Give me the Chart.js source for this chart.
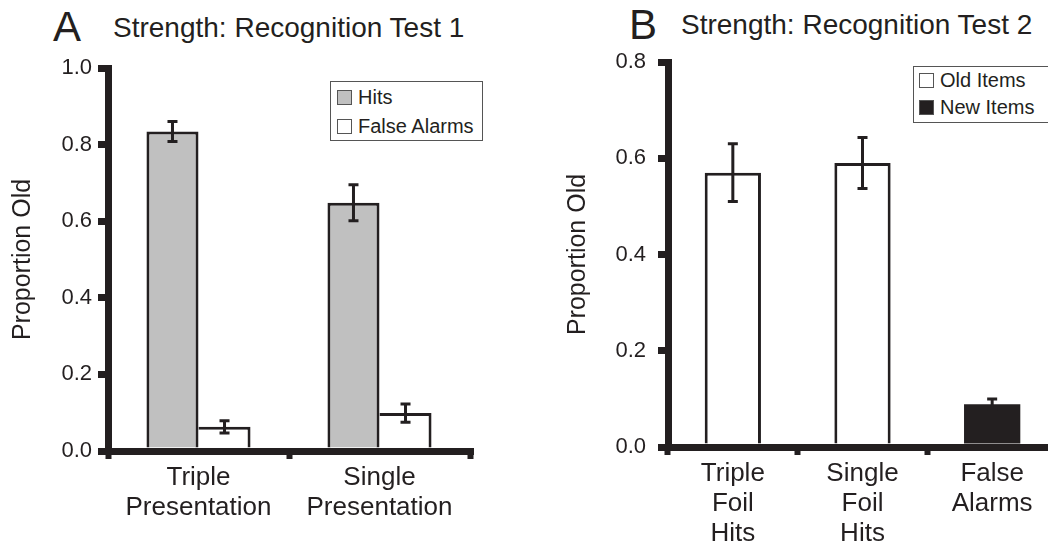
<!DOCTYPE html>
<html>
<head>
<meta charset="utf-8">
<script src="https://cdn.jsdelivr.net/npm/chart.js@4.4.1/dist/chart.umd.min.js"></script>
<style>
  body { margin: 0; width: 1048px; height: 548px; overflow: hidden; background: #fff; position: relative;
         font-family: "Liberation Sans", Arial, sans-serif; color: #231f20; }
  .panel { position: absolute; top: 0; height: 548px; }
  .letter { position: absolute; font-size: 42px; line-height: 42px; }
  .title { position: absolute; font-size: 28px; line-height: 28px; white-space: nowrap; }
  .legend { position: absolute; border: 1px solid #555; background: #fff; font-size: 20px; white-space: nowrap; }
  .legend div { display: flex; align-items: center; }
  .legend span.box { display: inline-block; width: 13px; height: 13px; border: 1px solid #555; margin-right: 6px; }
</style>
</head>
<body>
<div class="letter" style="left:53px; top:6px;">A</div>
<div class="title" style="left:113px; top:14px;">Strength: Recognition Test 1</div>
<div class="letter" style="left:629px; top:4px;">B</div>
<div class="title" style="left:681px; top:11px;">Strength: Recognition Test 2</div>

<div class="panel" style="left:0; width:520px;"><canvas id="chartA"></canvas></div>
<div class="panel" style="left:540px; width:540px;"><canvas id="chartB"></canvas></div>

<div id="legendA" class="legend" style="left:330px; top:81px; width:145px; height:58px; padding:0 0 0 6px;"></div>
<div id="legendB" class="legend" style="left:913px; top:66px; width:160px; height:55px; padding:0 0 0 5px;"></div>

<script>
// Datos

const labelsA = [['Triple', 'Presentation'], ['Single', 'Presentation']];
const hitsA = [0.834, 0.648];
const hitsErrA = [0.026, 0.047];
const falsosA = [0.063, 0.099];
const falsosErrA = [0.016, 0.024];

const labelsB = [['Triple', 'Foil', 'Hits'], ['Single', 'Foil', 'Hits'], ['False', 'Alarms']];
const viejosB = [0.570, 0.590, null];
const viejosErrB = [0.060, 0.053, null];
const nuevosB = [null, null, 0.089];
const nuevosErrB = [null, null, 0.011];

const ticksA = [0, 0.2, 0.4, 0.6, 0.8, 1.0];
const ticksB = [0, 0.2, 0.4, 0.6, 0.8];

const negro = '#231f20';
const fuente = '"Liberation Sans", Arial, sans-serif';

// Barras de error

const barrasError = {
  id: 'barrasError',
  afterDatasetsDraw(chart) {
    const ctx = chart.ctx;
    const y = chart.scales.y;
    chart.data.datasets.forEach((ds, i) => {
      const meta = chart.getDatasetMeta(i);
      meta.data.forEach((bar, j) => {
        const v = ds.data[j];
        const e = ds.errores[j];
        if (v == null || e == null) return;
        const arriba = y.getPixelForValue(v + e);
        const abajo = y.getPixelForValue(v - e);
        ctx.save();
        ctx.strokeStyle = negro;
        ctx.lineWidth = 3;
        ctx.beginPath();
        ctx.moveTo(bar.x, arriba);
        ctx.lineTo(bar.x, abajo);
        ctx.moveTo(bar.x - 5, arriba);
        ctx.lineTo(bar.x + 5, arriba);
        ctx.moveTo(bar.x - 5, abajo);
        ctx.lineTo(bar.x + 5, abajo);
        ctx.stroke();
        ctx.restore();
      });
    });
  }
};

// Opciones comunes

function opciones(cfg) {
  return {
    responsive: true,
    maintainAspectRatio: false,
    animation: false,
    layout: { padding: cfg.padding },
    plugins: { legend: { display: false }, title: { display: false }, tooltip: { enabled: false } },
    scales: {
      x: {
        afterFit: (s) => { s.height = cfg.altoX; },
        grid: { drawOnChartArea: false, drawTicks: true, tickLength: 8, tickWidth: 6, tickColor: negro, lineWidth: 7, color: negro },
        border: { display: true, width: 7, color: negro, z: 1 },
        ticks: { color: negro, padding: cfg.padX, font: { family: fuente, size: 26, lineHeight: 1.15 } }
      },
      y: {
        min: 0,
        max: cfg.max,
        afterFit: (s) => { s.width = cfg.anchoY; },
        afterBuildTicks: (s) => { s.ticks = cfg.ticks.map(v => ({ value: v })); },
        grid: { drawOnChartArea: false, drawTicks: true, tickLength: 10, tickWidth: 7, tickColor: negro, lineWidth: 7, color: negro },
        border: { display: true, width: 7, color: negro, z: 1 },
        ticks: { color: negro, padding: cfg.padY, font: { family: fuente, size: 22 }, callback: (v) => Number(v).toFixed(1) },
        title: { display: true, text: 'Proportion Old', color: negro, padding: { top: cfg.padTitulo }, font: { family: fuente, size: 25 } }
      }
    }
  };
}

function leyendaHTML(id, chart) {
  let template = '';
  for (const ds of chart.data.datasets) {
    template += `<div style="height:${ds.altoLeyenda}px"><span class="box" style="background:${ds.backgroundColor}"></span>${ds.label}</div>`;
  }
  document.getElementById(id).innerHTML = template;
}

// Gráfico A

const graficoA = new Chart(document.getElementById('chartA'), {
  type: 'bar',
  data: {
    labels: labelsA,
    datasets: [
      { label: 'Hits', data: hitsA, errores: hitsErrA, backgroundColor: '#c0c0c0', borderColor: negro,
        borderWidth: { top: 3, left: 3, right: 3, bottom: 0 }, altoLeyenda: 30,
        categoryPercentage: 0.575, barPercentage: 1 },
      { label: 'False Alarms', data: falsosA, errores: falsosErrA, backgroundColor: '#ffffff', borderColor: negro,
        borderWidth: { top: 3, left: 0, right: 3, bottom: 0 }, altoLeyenda: 28,
        categoryPercentage: 0.575, barPercentage: 1 }
    ]
  },
  options: opciones({ padding: { top: 68, right: 50, left: 0, bottom: 0 }, altoX: 97, anchoY: 108,
    max: 1.0, ticks: ticksA, padX: 4, padY: 6, padTitulo: 8 }),
  plugins: [barrasError]
});

// Gráfico B

const graficoB = new Chart(document.getElementById('chartB'), {
  type: 'bar',
  data: {
    labels: labelsB,
    datasets: [
      { label: 'Old Items', data: viejosB, errores: viejosErrB, backgroundColor: '#ffffff', borderColor: negro,
        borderWidth: { top: 3, left: 3, right: 3, bottom: 0 }, altoLeyenda: 27, skipNull: true,
        categoryPercentage: 0.434, barPercentage: 1 },
      { label: 'New Items', data: nuevosB, errores: nuevosErrB, backgroundColor: negro, borderColor: negro,
        borderWidth: 0, altoLeyenda: 27, skipNull: true,
        categoryPercentage: 0.434, barPercentage: 1 }
    ]
  },
  options: opciones({ padding: { top: 62, right: 23, left: 0, bottom: 0 }, altoX: 101, anchoY: 128,
    max: 0.8, ticks: ticksB, padX: 4, padY: 12, padTitulo: 23 }),
  plugins: [barrasError]
});

leyendaHTML('legendA', graficoA);
leyendaHTML('legendB', graficoB);
</script>
</body>
</html>
